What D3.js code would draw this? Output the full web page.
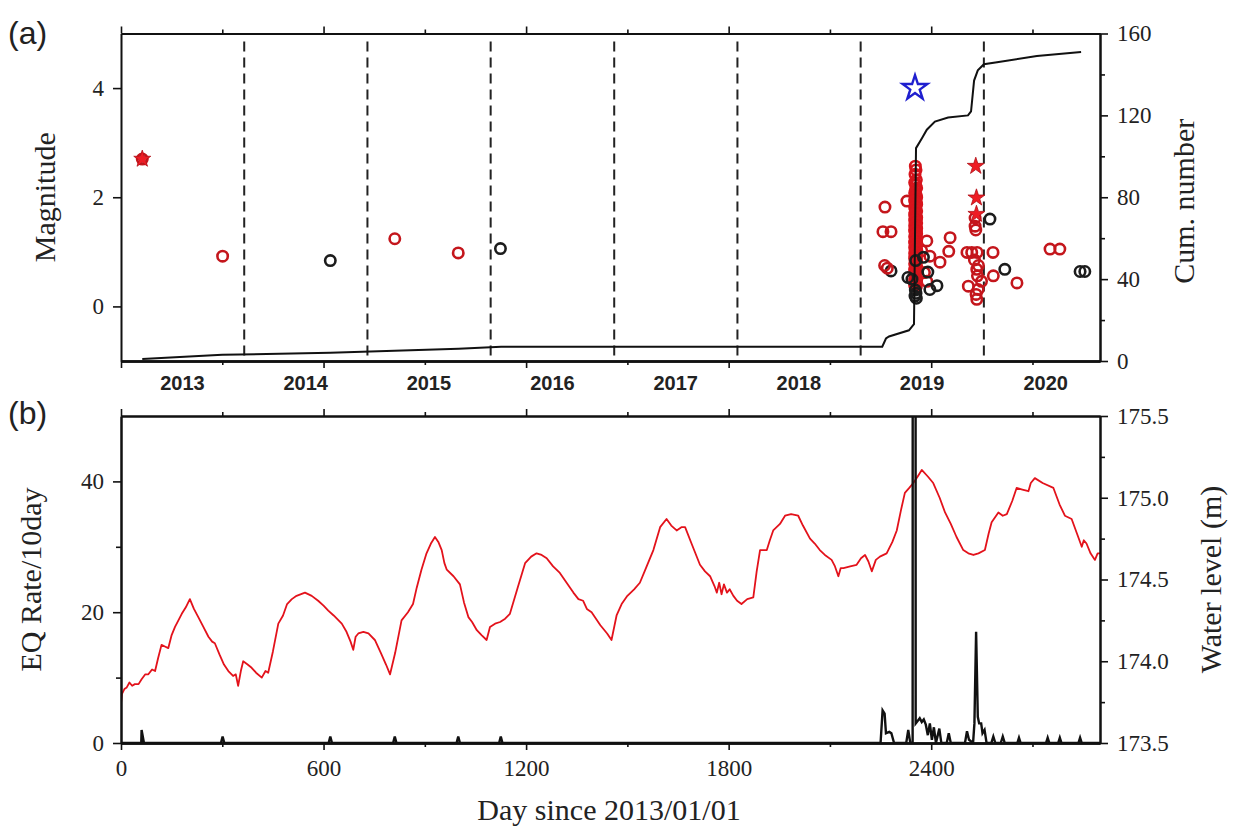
<!DOCTYPE html>
<head>
  <meta charset="utf-8">
  <title>Magnitude, cumulative number and EQ rate</title>
  <script src="https://cdn.jsdelivr.net/npm/d3@7"></script>
  <style>
    body { margin: 0; background: #fff; }
  </style>
</head>

<body>

  <script type="text/javascript">
    var WIDTH = 1234;
    var HEIGHT = 832;
    var LEFT = 121, RIGHT = 1100;
    var A_TOP = 33.5, A_BOTTOM = 361;   // panel (a)
    var B_TOP = 416, B_BOTTOM = 743;    // panel (b)
    var SERIF = "Liberation Serif, Times New Roman, serif";
    var SANS = "Liberation Sans, Arial, sans-serif";

    //===========data
    var dayTicks = [0, 600, 1200, 1800, 2400];
    var dayMinorTicks = [300, 900, 1500, 2100, 2700];
    var yearStarts = [365, 730, 1095, 1461, 1826, 2191, 2556];
    var yearLabels = ["2013", "2014", "2015", "2016", "2017", "2018", "2019", "2020"];
    var yearMids = [182, 547, 912, 1278, 1643, 2008, 2373, 2739];
    var magTicks = [0, 2, 4];
    var cumTicks = [0, 40, 80, 120, 160];
    var cumMinorTicks = [20, 60, 100, 140];
    var rateTicks = [0, 20, 40];
    var rateMinorTicks = [10, 30];
    var levelTicks = [173.5, 174.0, 174.5, 175.0, 175.5];
    var levelMinorTicks = [173.75, 174.25, 174.75, 175.25];

    // [day, magnitude]
    var redEvents = [
      [63, 2.70], [301, 0.92], [811, 1.24], [999, 0.98],
      [2263, 1.82], [2257, 1.37], [2281, 1.37], [2262, 0.75], [2270, 0.70],
      [2328, 1.93], [2387, 1.20], [2456, 1.26], [2452, 1.01], [2426, 0.81],
      [2396, 0.92], [2387, 0.46], [2372, 1.02], [2380, 0.62],
      [2530, 1.47], [2532, 1.40], [2506, 0.99], [2520, 0.99], [2536, 0.99],
      [2583, 0.99], [2535, 0.68], [2537, 0.56], [2510, 0.37], [2539, 0.31],
      [2535, 0.13], [2549, 0.46], [2584, 0.56], [2654, 0.43], [2752, 1.05],
      [2781, 1.05], [2530, 1.62], [2528, 0.85], [2540, 0.75], [2533, 0.22]
    ];
    // the swarm column right after the main shock
    var swarmRed = [
      [2353, 2.57], [2355, 2.50], [2352, 2.42], [2356, 2.32], [2354, 2.22],
      [2353, 2.12], [2355, 2.04], [2352, 1.97], [2356, 1.90], [2354, 1.84],
      [2353, 1.78], [2355, 1.72], [2352, 1.66], [2356, 1.61], [2354, 1.56],
      [2353, 1.51], [2355, 1.46], [2352, 1.41], [2356, 1.36], [2354, 1.31],
      [2353, 1.26], [2355, 1.21], [2352, 1.16], [2356, 1.11], [2354, 1.06],
      [2353, 1.01], [2355, 0.96], [2352, 0.91], [2356, 0.86], [2354, 0.81],
      [2353, 0.76], [2355, 0.71], [2352, 0.66], [2356, 0.61], [2354, 0.56],
      [2353, 0.51], [2355, 0.46], [2352, 0.41], [2356, 0.36],
      [2351, 2.27], [2357, 2.17], [2351, 2.08], [2357, 2.00], [2351, 1.93],
      [2357, 1.87], [2351, 1.81], [2357, 1.75], [2351, 1.69], [2357, 1.63],
      [2351, 1.58], [2357, 1.53], [2351, 1.48], [2357, 1.43], [2351, 1.38],
      [2357, 1.33], [2351, 1.28], [2357, 1.23], [2351, 1.18], [2357, 1.13],
      [2351, 1.08], [2357, 1.03], [2351, 0.98], [2357, 0.93], [2351, 0.88],
      [2357, 0.83], [2351, 0.78], [2357, 0.73], [2351, 0.68], [2357, 0.63],
      [2351, 0.58], [2357, 0.53], [2351, 0.48], [2357, 0.43], [2351, 0.39]
    ];
    var blackEvents = [
      [620, 0.84], [1124, 1.06], [2281, 0.65],
      [2390, 0.63], [2417, 0.38], [2396, 0.31], [2331, 0.53], [2343, 0.50],
      [2377, 0.90], [2353, 0.30], [2355, 0.24], [2352, 0.19], [2356, 0.15],
      [2354, 0.84], [2574, 1.60], [2618, 0.68], [2841, 0.64], [2855, 0.64]
    ];
    var starEvents = [[63, 2.70], [2532, 2.57], [2534, 1.99], [2534, 1.69]];
    var mainShock = [[2352, 4.0]];

    // [day, cumulative number]
    var cumNumber = [
      [63, 1], [300, 3], [620, 4], [810, 5], [1000, 6], [1126, 7], [2255, 7],
      [2266, 11], [2275, 12], [2334, 15], [2349, 18], [2355, 104], [2373, 109],
      [2387, 113], [2411, 117], [2450, 119], [2509, 120], [2518, 122],
      [2527, 137], [2538, 142], [2556, 145], [2595, 146], [2713, 149], [2844, 151]
    ];

    // [day, events per 10 days]
    var eqRate = [
      [0, 0], [60, 0], [61, 2], [68, 0], [296, 0], [301, 1], [306, 0],
      [615, 0], [620, 1], [625, 0], [806, 0], [811, 1], [816, 0],
      [994, 0], [999, 1], [1004, 0], [1120, 0], [1125, 1], [1130, 0],
      [2250, 0], [2256, 5], [2262, 4.5], [2266, 1.5], [2276, 1.7], [2282, 1.5],
      [2290, 0], [2326, 0], [2332, 2], [2338, 0], [2345, 0], [2347, 600],
      [2351, 600], [2354, 3], [2366, 3.8], [2372, 3.2], [2378, 3.6],
      [2384, 2.8], [2390, 1.2], [2396, 3], [2402, 0.5], [2408, 2.4],
      [2414, 0], [2424, 2.2], [2430, 0], [2446, 0], [2452, 1.5], [2458, 0],
      [2500, 0], [2506, 1.8], [2512, 0.5], [2524, 0], [2528, 3], [2533, 17],
      [2538, 4], [2542, 3], [2548, 3], [2552, 1.5], [2558, 2], [2564, 0],
      [2578, 0], [2584, 1], [2590, 0], [2606, 0], [2612, 1], [2618, 0],
      [2655, 0], [2660, 0.8], [2665, 0], [2740, 0], [2745, 0.8], [2750, 0],
      [2776, 0], [2781, 0.8], [2786, 0], [2836, 0], [2841, 0.8], [2846, 0],
      [2900, 0]
    ];

    // [day, water level (m)]
    var waterLevel = [
      [0, 173.74], [3, 173.80], [10, 173.83], [17, 173.84], [25, 173.87], [33, 173.85],
      [41, 173.86], [52, 173.86], [61, 173.89], [72, 173.92], [81, 173.92], [92, 173.95],
      [101, 173.94], [110, 174.02], [120, 174.10], [130, 174.09], [140, 174.08],
      [150, 174.16], [160, 174.21], [170, 174.25], [180, 174.29], [192, 174.33],
      [204, 174.38], [216, 174.32], [229, 174.27], [244, 174.21], [259, 174.15],
      [270, 174.12], [278, 174.11], [292, 174.04], [305, 173.98], [318, 173.94],
      [332, 173.91], [340, 173.92], [347, 173.85], [355, 173.94], [362, 174.00],
      [375, 173.98], [387, 173.96], [400, 173.93], [417, 173.90], [428, 173.94],
      [436, 173.93], [450, 174.06], [466, 174.23], [480, 174.28], [492, 174.35],
      [506, 174.38], [520, 174.40], [545, 174.42], [565, 174.40], [584, 174.37],
      [600, 174.34], [614, 174.31], [630, 174.28], [654, 174.23], [668, 174.18],
      [680, 174.12], [688, 174.07], [695, 174.15], [703, 174.17], [718, 174.18],
      [733, 174.17], [752, 174.13], [770, 174.05], [785, 173.98], [797, 173.92],
      [812, 174.05], [831, 174.25], [850, 174.30], [865, 174.35], [876, 174.45],
      [890, 174.56], [905, 174.66], [918, 174.72], [930, 174.76], [940, 174.73],
      [950, 174.68], [958, 174.60], [965, 174.56], [985, 174.52], [1004, 174.47],
      [1016, 174.36], [1029, 174.27], [1040, 174.24], [1054, 174.19], [1068, 174.16],
      [1083, 174.13], [1093, 174.21], [1108, 174.23], [1123, 174.24], [1138, 174.26],
      [1152, 174.29], [1175, 174.45], [1197, 174.60], [1215, 174.64], [1231, 174.66],
      [1246, 174.65], [1261, 174.63], [1280, 174.58], [1300, 174.54], [1320, 174.48],
      [1340, 174.42], [1355, 174.38], [1369, 174.37], [1380, 174.32], [1394, 174.30],
      [1420, 174.22], [1440, 174.17], [1453, 174.13], [1468, 174.28], [1483, 174.35],
      [1500, 174.40], [1520, 174.44], [1537, 174.48], [1555, 174.57], [1577, 174.68],
      [1597, 174.82], [1616, 174.87], [1630, 174.83], [1646, 174.80], [1660, 174.82],
      [1671, 174.82], [1690, 174.72], [1715, 174.59], [1730, 174.55], [1745, 174.52],
      [1758, 174.46], [1765, 174.42], [1772, 174.48], [1779, 174.41], [1786, 174.47],
      [1795, 174.42], [1803, 174.44], [1814, 174.40], [1825, 174.37], [1838, 174.35],
      [1855, 174.38], [1873, 174.39], [1883, 174.55], [1893, 174.68], [1913, 174.68],
      [1922, 174.74], [1932, 174.80], [1952, 174.84], [1967, 174.89], [1985, 174.90],
      [2006, 174.89], [2020, 174.83], [2041, 174.75], [2055, 174.72], [2070, 174.68],
      [2085, 174.65], [2105, 174.62], [2115, 174.58], [2125, 174.52], [2132, 174.57],
      [2140, 174.57], [2160, 174.58], [2179, 174.59], [2192, 174.63], [2204, 174.65],
      [2214, 174.61], [2224, 174.55], [2236, 174.62], [2248, 174.64], [2268, 174.66],
      [2285, 174.73], [2298, 174.80], [2310, 174.92], [2322, 175.03], [2335, 175.06],
      [2347, 175.09], [2360, 175.13], [2372, 175.17], [2390, 175.13], [2406, 175.09],
      [2425, 175.00], [2441, 174.91], [2458, 174.84], [2475, 174.76], [2495, 174.68],
      [2510, 174.66], [2525, 174.65], [2540, 174.66], [2559, 174.68], [2570, 174.78],
      [2579, 174.85], [2599, 174.91], [2612, 174.89], [2624, 174.90], [2640, 174.98],
      [2653, 175.06], [2670, 175.05], [2688, 175.04], [2695, 175.09], [2707, 175.12],
      [2730, 175.09], [2762, 175.06], [2780, 174.96], [2796, 174.89], [2816, 174.87],
      [2832, 174.78], [2846, 174.70], [2852, 174.74], [2860, 174.72], [2872, 174.66],
      [2885, 174.62], [2893, 174.66], [2900, 174.66]
    ];

    //===========scales
    var x = d3.scaleLinear().domain([0, 2900]).range([LEFT, RIGHT]);
    var yMag = d3.scaleLinear().domain([-1, 5]).range([A_BOTTOM, A_TOP]);
    var yCum = d3.scaleLinear().domain([0, 160]).range([A_BOTTOM, A_TOP]);
    var yRate = d3.scaleLinear().domain([0, 50]).range([B_BOTTOM, B_TOP]);
    var yLevel = d3.scaleLinear().domain([173.5, 175.5]).range([B_BOTTOM, B_TOP]);
    var intFormat = d3.format("d");

    var svg = d3.select("body").append("svg")
                .attr("width", WIDTH)
                .attr("height", HEIGHT);

    svg.append("defs").append("clipPath").attr("id", "clipB")
      .append("rect")
      .attr("x", LEFT).attr("y", B_TOP)
      .attr("width", RIGHT - LEFT).attr("height", B_BOTTOM - B_TOP);

    //===========axes helper
    function styleAxis(g, width){
      g.attr("font-family", SERIF).attr("font-size", 23);
      g.select(".domain").attr("stroke", "#111").attr("stroke-width", width);
      g.selectAll(".tick line").attr("stroke", "#111").attr("stroke-width", 1.6);
      g.selectAll(".tick text").attr("fill", "#222");
    }

    function addAxis(axis, tx, ty, width){
      var g = svg.append("g")
                 .attr("transform", "translate(" + tx + "," + ty + ")")
                 .call(axis);
      styleAxis(g, width);
      return g;
    }

    //===========panel (a)
    // day ticks, top and bottom
    addAxis(d3.axisTop(x).tickValues(dayTicks).tickSize(7).tickSizeOuter(0).tickFormat(""), 0, A_TOP, 2);
    addAxis(d3.axisTop(x).tickValues(dayMinorTicks).tickSize(4).tickSizeOuter(0).tickFormat(""), 0, A_TOP, 2);
    addAxis(d3.axisBottom(x).tickValues(dayTicks).tickSize(7).tickSizeOuter(0).tickFormat(""), 0, A_BOTTOM, 2.4);
    addAxis(d3.axisBottom(x).tickValues(dayMinorTicks).tickSize(4).tickSizeOuter(0).tickFormat(""), 0, A_BOTTOM, 2.4);

    addAxis(d3.axisLeft(yMag).tickValues(magTicks).tickSize(8).tickSizeOuter(0).tickPadding(9).tickFormat(intFormat), LEFT, 0, 2);
    addAxis(d3.axisRight(yCum).tickValues(cumTicks).tickSize(8).tickSizeOuter(0).tickPadding(9).tickFormat(intFormat), RIGHT, 0, 2);
    addAxis(d3.axisRight(yCum).tickValues(cumMinorTicks).tickSize(5).tickSizeOuter(0).tickFormat(""), RIGHT, 0, 2);

    // year boundaries
    svg.append("g").selectAll("line")
      .data(yearStarts)
      .enter().append("line")
      .attr("x1", function(d){ return x(d); })
      .attr("x2", function(d){ return x(d); })
      .attr("y1", A_TOP + 8)
      .attr("y2", A_BOTTOM)
      .attr("stroke", "#222")
      .attr("stroke-width", 2)
      .attr("stroke-dasharray", "10,6");

    svg.append("g").selectAll("text")
      .data(yearLabels)
      .enter().append("text")
      .attr("x", function(d, i){ return x(yearMids[i]); })
      .attr("y", 390)
      .attr("text-anchor", "middle")
      .attr("font-family", SANS)
      .attr("font-weight", "bold")
      .attr("font-size", 20)
      .attr("fill", "#222")
      .text(function(d){ return d; });

    // events
    function drawCircles(data, color){
      svg.append("g").selectAll("circle")
        .data(data)
        .enter().append("circle")
        .attr("cx", function(d){ return x(d[0]); })
        .attr("cy", function(d){ return yMag(d[1]); })
        .attr("r", 5.2)
        .attr("fill", "none")
        .attr("stroke", color)
        .attr("stroke-width", 2.6);
    }
    drawCircles(blackEvents.slice(0, 3), "#1c1c1c");
    drawCircles(redEvents, "#c4161c");
    drawCircles(swarmRed, "#d8141c");
    drawCircles(blackEvents.slice(3), "#1c1c1c");

    var cumLine = d3.line()
                    .x(function(d){ return x(d[0]); })
                    .y(function(d){ return yCum(d[1]); });
    svg.append("path")
      .attr("d", cumLine(cumNumber))
      .attr("fill", "none")
      .attr("stroke", "#111")
      .attr("stroke-width", 2);

    svg.append("g").selectAll("path")
      .data(starEvents)
      .enter().append("path")
      .attr("d", d3.symbol(d3.symbolStar).size(90))
      .attr("transform", function(d){ return "translate(" + x(d[0]) + "," + yMag(d[1]) + ")"; })
      .attr("fill", "#ee1c24")
      .attr("stroke", "#b01018")
      .attr("stroke-width", 0.8);

    svg.append("g").selectAll("path")
      .data(mainShock)
      .enter().append("path")
      .attr("d", d3.symbol(d3.symbolStar).size(190))
      .attr("transform", function(d){ return "translate(" + x(d[0]) + "," + yMag(d[1]) + ")"; })
      .attr("fill", "none")
      .attr("stroke", "#1f1fcf")
      .attr("stroke-width", 2.4);

    //===========panel (b)
    var levelLine = d3.line()
                      .x(function(d){ return x(d[0]); })
                      .y(function(d){ return yLevel(d[1]); });
    svg.append("path")
      .attr("d", levelLine(waterLevel))
      .attr("clip-path", "url(#clipB)")
      .attr("fill", "none")
      .attr("stroke", "#e3121b")
      .attr("stroke-width", 1.8)
      .attr("stroke-linejoin", "round");

    var rateLine = d3.line()
                     .x(function(d){ return x(d[0]); })
                     .y(function(d){ return yRate(d[1]); });
    svg.append("path")
      .attr("d", rateLine(eqRate))
      .attr("clip-path", "url(#clipB)")
      .attr("fill", "none")
      .attr("stroke", "#111")
      .attr("stroke-width", 2.4);

    addAxis(d3.axisTop(x).tickValues(dayTicks).tickSize(7).tickSizeOuter(0).tickFormat(""), 0, B_TOP, 2);
    addAxis(d3.axisTop(x).tickValues(dayMinorTicks).tickSize(4).tickSizeOuter(0).tickFormat(""), 0, B_TOP, 2);
    addAxis(d3.axisBottom(x).tickValues(dayTicks).tickSize(7).tickSizeOuter(0).tickPadding(10).tickFormat(intFormat), 0, B_BOTTOM, 2.4);
    addAxis(d3.axisBottom(x).tickValues(dayMinorTicks).tickSize(4).tickSizeOuter(0).tickFormat(""), 0, B_BOTTOM, 2.4);

    addAxis(d3.axisLeft(yRate).tickValues(rateTicks).tickSize(8).tickSizeOuter(0).tickPadding(9).tickFormat(intFormat), LEFT, 0, 2);
    addAxis(d3.axisLeft(yRate).tickValues(rateMinorTicks).tickSize(5).tickSizeOuter(0).tickFormat(""), LEFT, 0, 2);
    addAxis(d3.axisRight(yLevel).tickValues(levelTicks).tickSize(8).tickSizeOuter(0).tickPadding(9).tickFormat(d3.format(".1f")), RIGHT, 0, 2);
    addAxis(d3.axisRight(yLevel).tickValues(levelMinorTicks).tickSize(5).tickSizeOuter(0).tickFormat(""), RIGHT, 0, 2);

    //===========titles
    function rotatedTitle(label, cx, cy){
      svg.append("text")
        .attr("transform", "translate(" + cx + "," + cy + ") rotate(-90)")
        .attr("text-anchor", "middle")
        .attr("font-family", SERIF)
        .attr("font-size", 30)
        .attr("fill", "#222")
        .text(label);
    }
    rotatedTitle("Magnitude", 55, (A_TOP + A_BOTTOM) / 2);
    rotatedTitle("Cum. number", 1194, (A_TOP + A_BOTTOM) / 2 + 4);
    rotatedTitle("EQ Rate/10day", 41, (B_TOP + B_BOTTOM) / 2);
    rotatedTitle("Water level (m)", 1221, (B_TOP + B_BOTTOM) / 2);

    svg.append("text")
      .attr("x", 609).attr("y", 820)
      .attr("text-anchor", "middle")
      .attr("font-family", SERIF)
      .attr("font-size", 30)
      .attr("fill", "#222")
      .text("Day since 2013/01/01");

    svg.append("text").attr("x", 8).attr("y", 44)
      .attr("font-family", SANS).attr("font-size", 32).attr("fill", "#222")
      .text("(a)");
    svg.append("text").attr("x", 8).attr("y", 424)
      .attr("font-family", SANS).attr("font-size", 32).attr("fill", "#222")
      .text("(b)");
  </script>
</body>
